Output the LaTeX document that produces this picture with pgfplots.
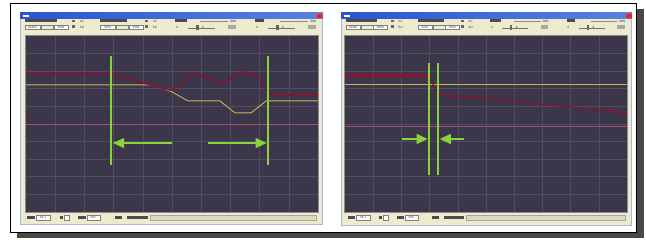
\documentclass[border=0pt]{standalone}
\usepackage{pgfplots}
\pgfplotsset{compat=1.18}
\usetikzlibrary{arrows.meta}
\definecolor{scopebg}{RGB}{60,54,74}
\definecolor{gridc}{RGB}{82,76,98}
\definecolor{cream}{RGB}{238,234,206}
\definecolor{titleblue}{RGB}{38,86,210}
\definecolor{winedge}{RGB}{165,185,228}
\definecolor{tracered}{RGB}{128,22,52}
\definecolor{traceyel}{RGB}{196,182,88}
\definecolor{tracepink}{RGB}{168,76,120}
\definecolor{cursorc}{RGB}{140,210,60}
\definecolor{shadowc}{RGB}{72,72,72}
\pgfplotsset{scopeaxis/.style={scale only axis, height=176pt, anchor=north west,
  xmin=0,xmax=10,ymin=0,ymax=10, axis background/.style={fill=scopebg},
  xtick={1,...,9}, ytick={1,...,9}, xticklabels={}, yticklabels={},
  major tick length=0pt, tick style={draw=none}, grid=major,
  grid style={gridc, line width=0.6pt}, axis line style={draw=none}},
  cursorline/.style={draw=cursorc, line width=1.5pt},
  arrowline/.style={draw=cursorc, fill=cursorc, line width=1.3pt, -{Triangle[length=11pt,width=10pt]}}}
\newcommand\tinytxt[2]{\node[font=\fontsize{3.2pt}{3.5pt}\selectfont\sffamily, inner sep=0pt, text=black!80] at (#1) {#2};}
\newcommand\toolbar{%
  \fill[black!70] (5,-6.5) rectangle (37,-9.3);
  \fill[black!60] (52,-7) rectangle (55,-9);
  \tinytxt{62,-8}{AC}
  \fill[black!70] (80,-6.5) rectangle (107,-9.3);
  \fill[black!60] (125,-7) rectangle (128,-9);
  \tinytxt{135,-8}{AC}
  \fill[black!70] (155,-6.5) rectangle (167,-9.3);
  \fill[black!70] (235,-6.5) rectangle (244,-9.3);
  \draw[black!45, line width=0.4pt] (180,-8.5) -- (208,-8.5) (260,-8.5) -- (288,-8.5);
  \fill[black!35] (210,-7) rectangle (216,-9) (290,-7) rectangle (296,-9);
  \draw[black!50, fill=white, line width=0.3pt] (5,-12) rectangle (20,-16.5);
  \tinytxt{12.5,-14.3}{23466}
  \draw[black!50, fill=cream, line width=0.3pt] (21,-12) rectangle (33,-16.5);
  \draw[black!50, fill=white, line width=0.3pt] (34,-12) rectangle (48,-16.5);
  \tinytxt{41,-14.3}{2000}
  \fill[black!60] (52,-12.5) rectangle (55,-15.5);
  \tinytxt{62,-14.3}{Sel}
  \draw[black!50, fill=white, line width=0.3pt] (80,-12) rectangle (95,-16.5);
  \tinytxt{87.5,-14.3}{3270}
  \draw[black!50, fill=cream, line width=0.3pt] (96,-12) rectangle (108,-16.5);
  \draw[black!50, fill=white, line width=0.3pt] (109,-12) rectangle (123,-16.5);
  \tinytxt{116,-14.3}{2500}
  \fill[black!60] (125,-12.5) rectangle (128,-15.5);
  \tinytxt{135,-14.3}{Sel}
  \tinytxt{157,-14.3}{0}
  \draw[black!55, line width=0.4pt] (168,-15) -- (195,-15);
  \fill[black!60] (176,-12) rectangle (178.5,-17);
  \tinytxt{183,-14.3}{8}
  \fill[black!35] (208,-12.5) rectangle (216,-16);
  \tinytxt{237,-14.3}{0}
  \draw[black!55, line width=0.4pt] (248,-15) -- (275,-15);
  \fill[black!60] (256,-12) rectangle (258.5,-17);
  \tinytxt{263,-14.3}{8}
  \fill[black!35] (288,-12.5) rectangle (296,-16);
}
\newcommand\statusbar{%
  \fill[black!70] (7,-203.5) rectangle (15,-206.3);
  \draw[black!50, fill=white, line width=0.3pt] (16,-202.3) rectangle (30,-207);
  \tinytxt{23,-204.8}{24.7}
  \fill[black!70] (40,-203.5) rectangle (43,-206.3);
  \draw[black!50, fill=white, line width=0.3pt] (44,-202.3) rectangle (49,-207);
  \fill[black!70] (58,-203.5) rectangle (66,-206.3);
  \draw[black!50, fill=white, line width=0.3pt] (67,-202.3) rectangle (80,-207);
  \tinytxt{73,-204.8}{200}
  \fill[black!70] (95,-203.5) rectangle (102,-206.3);
  \fill[black!70] (107,-203.5) rectangle (128,-206.3);
  \draw[black!35, fill=cream!85!gray, line width=0.3pt] (130,-202.5) rectangle (296,-207);
}
\begin{document}
\begin{tikzpicture}[x=1pt,y=1pt]
\fill[white] (0,0) rectangle (646,-240);
\fill[shadowc] (17,-9) rectangle (644,-238);
\draw[black, fill=white, line width=0.6pt] (10,-3) rectangle (636,-232);

% ---------- left window ----------
\fill[winedge] (20,-13) rectangle (323,-225);
\fill[cream] (21,-19) rectangle (322,-224);
\shade[left color=titleblue, right color=titleblue!75!white] (20,-13) rectangle (323,-19);
\fill[white] (23,-15) rectangle (29,-17);
\fill[red!75!orange] (316.5,-13.8) rectangle (322,-18.5);
\begin{scope}[shift={(20,-13)}]\toolbar\statusbar\end{scope}
\draw[black!45, line width=0.5pt] (25.5,-35.5) rectangle (318.5,-212.5);

\begin{axis}[scopeaxis, width=292pt, at={(26pt,-36pt)}]
\addplot[tracepink, line width=1pt] coordinates {(0,4.97) (10,4.97)};
\addplot[traceyel, line width=0.9pt] coordinates {
 (0,7.22) (4.25,7.22) (4.59,7.10) (5.0,6.82) (5.55,6.31) (6.64,6.31)
 (7.16,5.63) (7.71,5.63) (8.22,6.31) (10,6.31)};
\addplot[tracered, line width=1.6pt, line join=round] coordinates {
 (0,7.87) (2.91,7.87) (3.90,7.39) (4.93,6.93) (5.27,7.16) (5.72,7.90)
 (6.23,7.61) (6.75,7.33) (7.05,7.61) (7.40,7.95) (7.74,7.90) (8.01,7.50)
 (8.25,6.93) (8.42,6.65)};
\addplot[tracered, line width=2.4pt] coordinates {(8.42,6.65) (10,6.65)};
\addplot[cursorline] coordinates {(2.91,2.67) (2.91,8.86)};
\addplot[cursorline] coordinates {(8.29,2.67) (8.29,8.86)};
\addplot[arrowline] coordinates {(5.0,3.92) (2.98,3.92)};
\addplot[arrowline] coordinates {(6.23,3.92) (8.24,3.92)};
\end{axis}

% ---------- right window ----------
\fill[winedge] (341,-13) rectangle (632,-226);
\fill[cream] (342,-19) rectangle (631,-225);
\shade[left color=titleblue, right color=titleblue!75!white] (341,-13) rectangle (632,-19);
\fill[white] (344,-15) rectangle (350,-17);
\fill[red!75!orange] (626,-13.8) rectangle (631.5,-18.5);
\begin{scope}[shift={(341,-13)}, xscale=0.96]\toolbar\statusbar\end{scope}
\draw[black!45, line width=0.5pt] (344.5,-35.5) rectangle (627.5,-212.5);

\begin{axis}[scopeaxis, width=282pt, at={(345pt,-36pt)}]
\addplot[tracepink, line width=1pt] coordinates {(0,4.83) (10,4.83)};
\addplot[traceyel, line width=0.9pt] coordinates {(0,7.24) (10,7.24)};
\addplot[tracered!90!red, line width=2.6pt] coordinates {(0,7.76) (2.98,7.76)};
\addplot[tracered, line width=1.5pt, line join=round] coordinates {
 (2.98,7.76) (3.30,6.65) (4.79,6.48) (6.56,6.19) (8.33,5.91) (10,5.63)};
\addplot[cursorline] coordinates {(2.98,2.10) (2.98,8.47)};
\addplot[cursorline] coordinates {(3.30,2.10) (3.30,8.47)};
\addplot[arrowline] coordinates {(2.02,4.15) (2.93,4.15)};
\addplot[arrowline] coordinates {(4.22,4.15) (3.36,4.15)};
\end{axis}
\end{tikzpicture}
\end{document}
